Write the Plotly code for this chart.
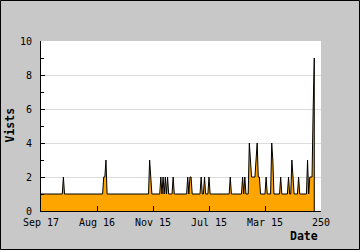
import plotly.graph_objects as go

# ---- data ----
tick_positions = [0, 50, 100, 150, 200, 250]
tick_labels = ["Sep 17", "Aug 16", "Nov 15", "Jul 15", "Mar 15", "250"]

n_points = 245
baseline_visits = 1
# index -> visits (all other days had 1 visit)
spikes = {
    20: 2,
    56: 2, 57: 2, 58: 3,
    97: 3, 98: 2,
    107: 2, 109: 2, 111: 2, 113: 2, 118: 2,
    131: 2, 133: 2, 134: 2,
    143: 2, 146: 2, 150: 2,
    169: 2,
    180: 2, 182: 2,
    186: 4, 187: 3, 188: 2, 189: 2, 190: 2, 191: 2, 192: 3, 193: 4, 194: 2, 195: 2,
    201: 2,
    206: 4, 207: 3,
    214: 2,
    221: 2, 224: 3, 225: 2,
    230: 2,
    238: 3, 240: 2, 241: 2, 242: 2, 243: 6, 244: 9,
}
days = list(range(n_points))
visits = [spikes.get(d, baseline_visits) for d in days]

# ---- figure ----
W, H = 360, 250
L, R, T, B = 41, 39, 41, 39
PW, PH = W - L - R, H - T - B

fig = go.Figure()
fig.add_trace(go.Scatter(
    x=days, y=visits, mode="lines",
    line=dict(color="black", width=1),
    fill="tozeroy", fillcolor="#ffa500",
    hoverinfo="skip", showlegend=False,
))

mono = "DejaVu Sans Mono"

fig.update_layout(
    width=W, height=H,
    margin=dict(l=L, r=R, t=T, b=B, pad=0),
    paper_bgcolor="#c8c8c8",
    plot_bgcolor="white",
    font=dict(family=mono, size=10, color="black"),
    xaxis=dict(
        range=[0, 250], tickvals=tick_positions, ticktext=tick_labels,
        ticks="inside", ticklen=5, tickcolor="black", tickwidth=1,
        showline=True, linecolor="black", linewidth=1,
        showgrid=False, zeroline=False,
        tickfont=dict(family=mono, size=10, color="black"),
        ticklabelstandoff=2,
    ),
    yaxis=dict(
        range=[0, 10], dtick=2, tick0=0,
        ticks="inside", ticklen=4, tickcolor="black", tickwidth=1,
        minor=dict(ticks="inside", dtick=1, ticklen=3, tickcolor="black", showgrid=False),
        showline=True, linecolor="black", linewidth=1,
        showgrid=True, gridcolor="#dcdcdc", gridwidth=1,
        zeroline=False,
        tickfont=dict(family=mono, size=10, color="black"),
        ticklabelstandoff=6,
    ),
    annotations=[
        dict(text="<b>Date</b>", xref="paper", yref="paper",
             x=(319.5 - L) / PW, y=(H - B - 236) / PH,
             xanchor="right", yanchor="middle", showarrow=False,
             font=dict(family=mono, size=11.5, color="black")),
        dict(text="<b>Vists</b>", xref="paper", yref="paper",
             x=(9.5 - L) / PW, y=(H - B - 125) / PH, textangle=-90,
             xanchor="center", yanchor="middle", showarrow=False,
             font=dict(family=mono, size=11.5, color="black")),
    ],
    shapes=[
        # closing edge of the filled area at the last data point
        dict(type="line", xref="x", yref="y",
             x0=days[-1], x1=days[-1], y0=0, y1=visits[-1],
             line=dict(color="black", width=1)),
        # outer frame
        dict(type="rect", xref="paper", yref="paper",
             x0=(0.5 - L) / PW, x1=(W - 0.5 - L) / PW,
             y0=(H - B - (H - 0.5)) / PH, y1=(H - B - 0.5) / PH,
             line=dict(color="black", width=1)),
    ],
)

fig.write_html("out.html")
